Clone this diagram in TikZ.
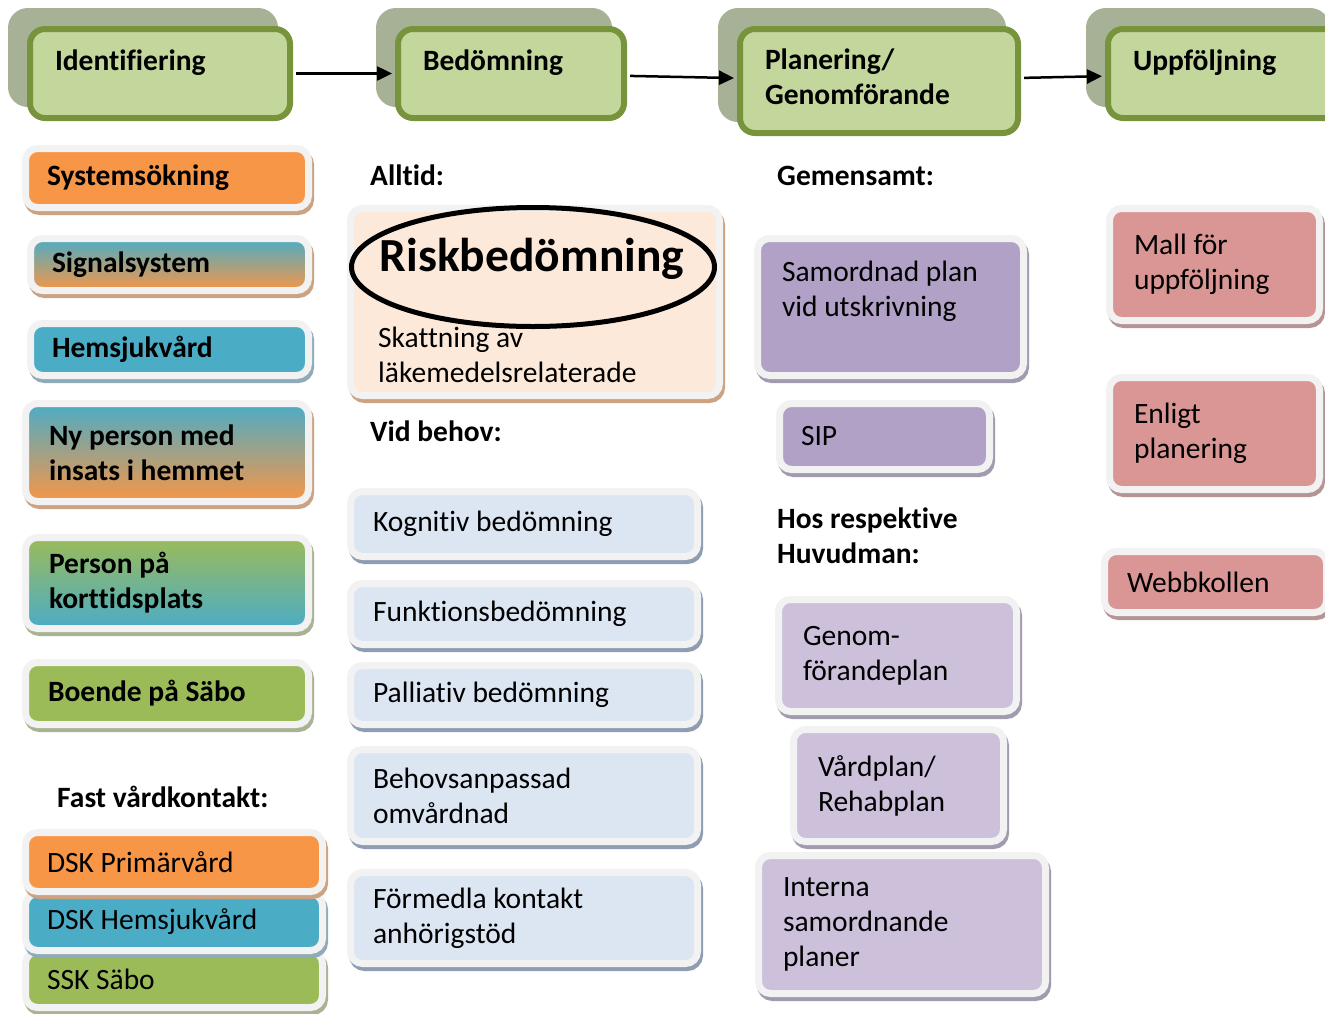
\documentclass[tikz,border=0pt]{standalone}
\usepackage{fontspec}
\setmainfont{Carlito}[Ligatures=NoCommon]
\usetikzlibrary{arrows.meta,shapes.geometric}

\definecolor{hdrfill}{HTML}{C3D69B}
\definecolor{hdrline}{HTML}{77933C}
\definecolor{hdrback}{HTML}{A6B195}
\definecolor{frameC}{HTML}{F2F2F2}
\definecolor{orangeF}{HTML}{F79646}
\definecolor{blueF}{HTML}{4BACC6}
\definecolor{greenF}{HTML}{9BBB59}
\definecolor{peachF}{HTML}{FDE9D9}
\definecolor{paleF}{HTML}{DCE6F2}
\definecolor{purpleF}{HTML}{B2A1C7}
\definecolor{lilacF}{HTML}{CCC0DA}
\definecolor{pinkF}{HTML}{D99694}
\definecolor{tanS}{HTML}{CBA383}
\definecolor{blueS}{HTML}{8FAAB8}
\definecolor{greenS}{HTML}{A8B393}
\definecolor{paleS}{HTML}{8E9DB2}
\definecolor{purpleS}{HTML}{A19BAF}
\definecolor{pinkS}{HTML}{B49494}

\newcommand{\bodyfont}{\fontsize{29.5}{35}\selectfont}
\newcommand{\riskfont}{\fontsize{47.5}{52}\selectfont}

\tikzset{
  header/.style={draw=hdrline, fill=hdrfill, line width=6pt, rounded corners=15pt,
    inner sep=0pt, align=flush left, font=\bodyfont\bfseries,
    preaction={draw=hdrback, fill=hdrback, line width=10pt,
      transform canvas={xshift=-17pt, yshift=16pt}}},
  card/.style={draw=frameC, line width=7pt, rounded corners=12pt, inner sep=0pt,
    align=flush left, font=\bodyfont,
    preaction={draw=#1, fill=#1, line width=7pt, transform canvas={xshift=2pt, yshift=-4pt}}},
  orangecard/.style={card=tanS, fill=orangeF},
  bluecard/.style={card=blueS, fill=blueF},
  greencard/.style={card=greenS, fill=greenF},
  palecard/.style={card=paleS, fill=paleF},
  purplecard/.style={card=purpleS, fill=purpleF},
  lilaccard/.style={card=purpleS, fill=lilacF},
  pinkcard/.style={card=pinkS, fill=pinkF},
  boldtext/.style={font=\bodyfont\bfseries},
  title/.style={anchor=base west, inner sep=0pt, align=flush left, font=\bodyfont\bfseries},
  oval/.style={ellipse, draw=black, line width=5pt, minimum width=363pt,
    minimum height=119pt, inner sep=0pt},
  flow/.style={line width=2.5pt, -{Triangle[length=15pt,width=14pt]},
    shorten >=3pt, shorten <=3pt}
}

% name, extra style, outer x1, y1, x2, y2, text
\newcommand{\phase}[7]{
  \pgfmathsetmacro{\cardw}{#5-#3-6}
  \pgfmathsetmacro{\cardh}{#6-#4-6}
  \pgfmathsetmacro{\cardtw}{#5-#3-56}
  \node[header, #2, minimum width=\cardw pt, minimum height=\cardh pt,
    text width=\cardtw pt] (#1) at ({(#3+#5)/2}, {(#4+#6)/2}) {#7};
}
% name, style, fill x1, y1, x2, y2, padding, text
\newcommand{\card}[8]{
  \pgfmathsetmacro{\cardw}{#5-#3+7}
  \pgfmathsetmacro{\cardh}{#6-#4+7}
  \pgfmathsetmacro{\cardtw}{#5-#3-2*#7}
  \node[#2, minimum width=\cardw pt, minimum height=\cardh pt,
    text width=\cardtw pt] (#1) at ({(#3+#5)/2}, {(#4+#6)/2}) {#8};
}

\begin{document}
\begin{tikzpicture}[x=1pt,y=-1pt]
  \useasboundingbox (0,0) rectangle (1325,1013);
  \clip (0,0) rectangle (1325,1013);
  \fill[white] (0,0) rectangle (1325,1013);

  % phases
  \phase{ident}{text depth=27pt}{27}{26}{293}{121}{Identifiering}
  \phase{bedom}{text depth=27pt}{395}{26}{627}{121}{Bedömning}
  \phase{plan}{text depth=44pt}{737}{26}{1021}{136}{Planering/\\Genomförande}
  \phase{uppf}{text depth=27pt}{1105}{26}{1345}{121}{Uppföljning}
  \draw[flow] (ident) -- (bedom);
  \draw[flow] (bedom) -- (plan);
  \draw[flow] (plan) -- (uppf);

  % identifiering
  \card{syst}{orangecard, boldtext}{29}{152}{305}{204}{18}{Systemsökning}
  \card{signal}{card=tanS, top color=blueF, bottom color=orangeF, boldtext}{34}{242}{305}{287}{18}{Signalsystem}
  \card{hemsjv}{bluecard, boldtext}{34}{327}{305}{372}{18}{Hemsjukvård}
  \card{nyperson}{card=tanS, top color=blueF, bottom color=orangeF, boldtext}{29}{407}{305}{498}{20}{Ny person med\\insats i hemmet}
  \card{korttid}{card=greenS, top color=greenF, bottom color=blueF, boldtext}{29}{541}{305}{625}{20}{Person på\\korttidsplats}
  \card{sabo}{greencard, boldtext}{29}{666}{305}{721}{19}{Boende på Säbo}
  \node[title] (fastvk) at (57,807) {Fast vårdkontakt:};
  \card{ssk}{greencard}{29}{955}{319}{1004}{18}{SSK Säbo}
  \card{dskhem}{bluecard}{29}{897}{319}{947}{18}{DSK Hemsjukvård}
  \card{dskprim}{orangecard}{29}{836}{319}{888}{18}{DSK Primärvård}

  % bedömning
  \node[title] (alltid) at (370,185) {Alltid:};
  \card{risk}{card=tanS, fill=peachF}{354}{212}{716}{392}{20}{}
  \node[oval] (riskoval) at (533,267) {};
  \node[font=\riskfont\bfseries, anchor=base, inner sep=0pt] (risktitle) at (532,271) {Riskbedömning};
  \node[title, font=\bodyfont] (riskdesc) at (378,382) {Skattning av\\läkemedelsrelaterade};
  \node[title] (vidbehov) at (370,441) {Vid behov:};
  \foreach \n/\ya/\yb/\txt in {kogn/495/553/{Kognitiv bedömning},
      funk/587/641/{Funktionsbedömning}, pall/669/721/{Palliativ bedömning},
      omv/753/838/{Behovsanpassad\\omvårdnad}, anh/876/960/{Förmedla kontakt\\anhörigstöd}}
    {\card{\n}{palecard}{354}{\ya}{694}{\yb}{19}{\txt}}

  % planering
  \node[title] (gemensamt) at (777,185) {Gemensamt:};
  \card{samplan}{purplecard, text depth=72pt}{761}{242}{1020}{372}{21}{Samordnad plan\\vid utskrivning}
  \card{sip}{purplecard}{783}{407}{986}{466}{18}{SIP}
  \node[title] (hosresp) at (777,563) {Hos respektive\\Huvudman:};
  \card{genplan}{lilaccard}{782}{603}{1013}{708}{21}{Genom-\\förandeplan}
  \card{vardplan}{lilaccard}{797}{733}{1000}{838}{21}{Vårdplan/\\Rehabplan}
  \card{interna}{lilaccard}{762}{859}{1042}{990}{21}{Interna\\samordnande\\planer}

  % uppföljning
  \card{mall}{pinkcard}{1113}{212}{1316}{317}{21}{Mall för\\uppföljning}
  \card{enligt}{pinkcard}{1113}{381}{1316}{486}{21}{Enligt\\planering}
  \card{webb}{pinkcard}{1108}{555}{1323}{609}{19}{Webbkollen}
\end{tikzpicture}
\end{document}
